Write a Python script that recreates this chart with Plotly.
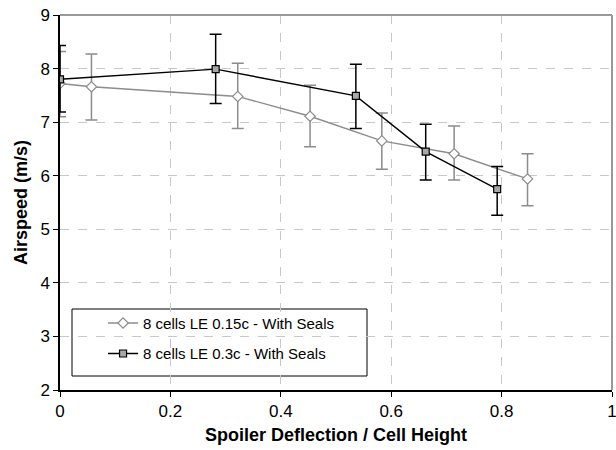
import plotly.graph_objects as go

# Series: 8 cells LE 0.15c - With Seals (grey diamonds)
x_a = [0.0, 0.057, 0.322, 0.453, 0.583, 0.714, 0.847]
y_a = [7.72, 7.66, 7.48, 7.11, 6.65, 6.41, 5.94]
err_up_a = [8.32, 8.27, 8.10, 7.69, 7.17, 6.93, 6.41]
err_lo_a = [7.10, 7.04, 6.88, 6.54, 6.12, 5.92, 5.44]

# Series: 8 cells LE 0.3c - With Seals (black squares)
x_b = [0.0, 0.282, 0.536, 0.6625, 0.792]
y_b = [7.80, 7.99, 7.49, 6.45, 5.75]
err_up_b = [8.43, 8.64, 8.08, 6.96, 6.17]
err_lo_b = [7.19, 7.35, 6.88, 5.92, 5.26]

name_a = "8 cells LE 0.15c - With Seals"
name_b = "8 cells LE 0.3c - With Seals"

x_ticks = [0, 0.2, 0.4, 0.6, 0.8, 1]
x_tick_text = ["0", "0.2", "0.4", "0.6", "0.8", "1"]
y_ticks = [2, 3, 4, 5, 6, 7, 8, 9]

GREY = "#8c8c8c"

fig = go.Figure()
fig.add_trace(go.Scatter(
    x=x_a, y=y_a, mode="lines+markers", name=name_a, legendgroup="a",
    line=dict(color=GREY, width=1.4),
    marker=dict(symbol="diamond", size=8, color="white", line=dict(color=GREY, width=1.2)),
    error_y=dict(type="data", symmetric=False,
                 array=[u - v for u, v in zip(err_up_a, y_a)],
                 arrayminus=[v - l for v, l in zip(y_a, err_lo_a)],
                 color=GREY, thickness=1.5, width=6),
))
fig.add_trace(go.Scatter(
    x=x_b, y=y_b, mode="lines+markers", name=name_b, legendgroup="b",
    line=dict(color="black", width=1.4),
    marker=dict(symbol="square", size=7, color="#a8a8a8", line=dict(color="black", width=1.2)),
    error_y=dict(type="data", symmetric=False,
                 array=[u - v for u, v in zip(err_up_b, y_b)],
                 arrayminus=[v - l for v, l in zip(y_b, err_lo_b)],
                 color="black", thickness=1.5, width=6),
))

fig.update_layout(
    width=616, height=450,
    margin=dict(l=60, r=4, t=15, b=60, autoexpand=False),
    paper_bgcolor="white", plot_bgcolor="white",
    font=dict(family="Liberation Sans, Arial, sans-serif", size=17, color="black"),
    showlegend=True,
    legend=dict(
        x=0.078, y=0.222, xanchor="left", yanchor="top",
        bgcolor="rgba(0,0,0,0)", borderwidth=0,
        font=dict(size=15), tracegroupgap=8, traceorder="grouped",
    ),
    shapes=[
        dict(type="rect", xref="paper", yref="paper",
             x0=(72 - 60) / 552, x1=(367 - 60) / 552,
             y0=(390 - 376) / 375, y1=(390 - 309) / 375,
             line=dict(color="black", width=1), fillcolor="white", layer="below"),
    ],
)
fig.update_xaxes(
    range=[0, 1], tickvals=x_ticks, ticktext=x_tick_text,
    showgrid=True, gridcolor="#c8c8c8", griddash="dash", gridwidth=1,
    showline=True, linecolor="black", linewidth=1.5, mirror=False,
    ticks="outside", ticklen=5, tickcolor="black",
    zeroline=False, automargin=False, ticklabeloverflow="allow",
    title=dict(text="<b>Spoiler Deflection / Cell Height</b>", font=dict(size=18), standoff=8),
)
fig.update_yaxes(
    range=[2, 9], tickvals=y_ticks,
    showgrid=True, gridcolor="#c8c8c8", griddash="dash", gridwidth=1,
    showline=True, linecolor="black", linewidth=1.5,
    ticks="outside", ticklen=5, tickcolor="black",
    zeroline=False, automargin=False, ticklabeloverflow="allow",
    title=dict(text="<b>Airspeed (m/s)</b>", font=dict(size=18), standoff=8),
)
# grey top and right frame
fig.add_shape(type="line", xref="paper", yref="paper", x0=0, x1=1, y0=1, y1=1,
              line=dict(color="#999999", width=2))
fig.add_shape(type="line", xref="paper", yref="paper", x0=1, x1=1, y0=0, y1=1,
              line=dict(color="#999999", width=2))

fig.write_html("out.html", config={"displayModeBar": False},
               post_script="document.body.style.margin='0px';document.body.style.overflow='hidden';")
